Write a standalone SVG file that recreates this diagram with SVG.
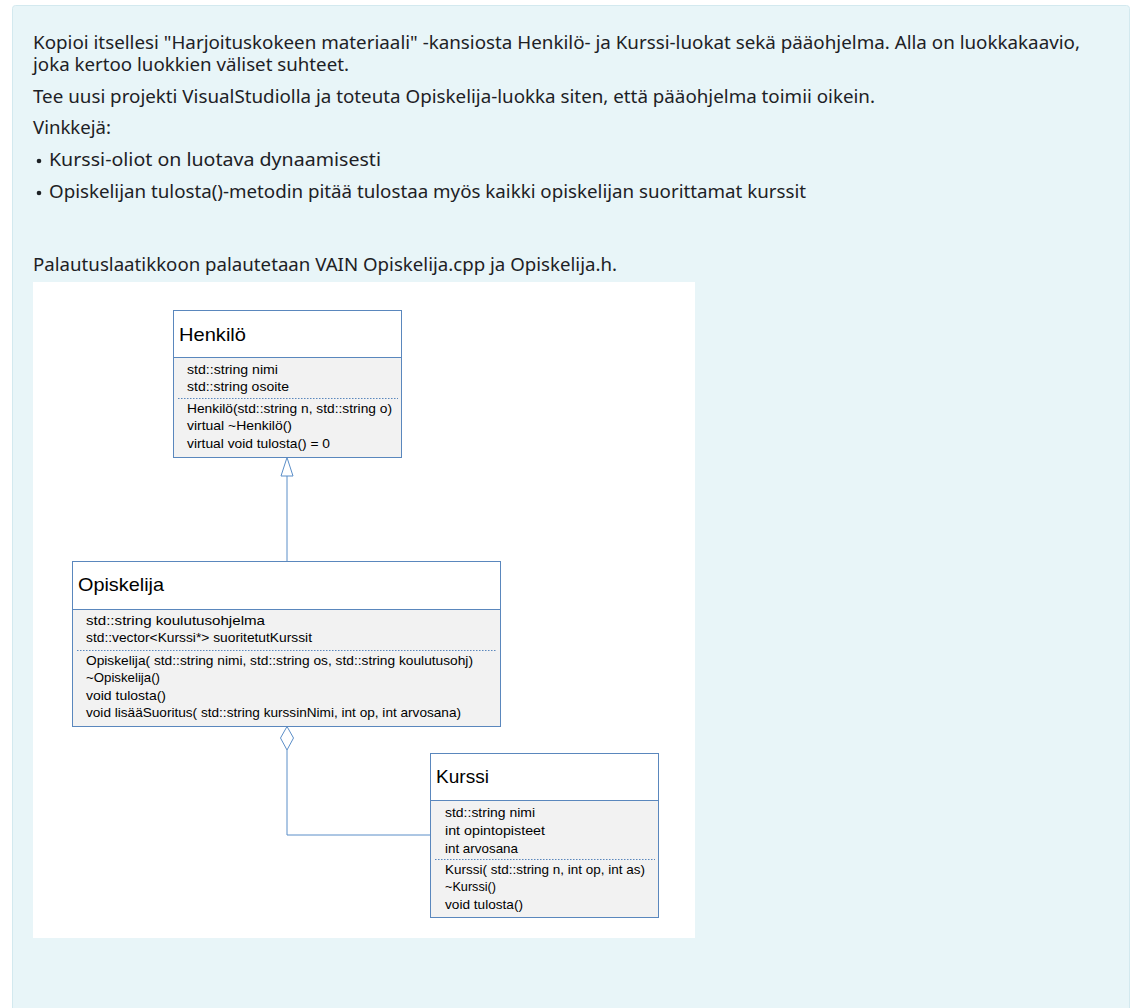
<svg xmlns="http://www.w3.org/2000/svg" width="1143" height="1008" viewBox="0 0 1143 1008">
<style>
.txt{font-family:"Noto Sans","Open Sans",sans-serif;font-size:18px;fill:#1d2125}
.ttl{font-family:"Liberation Sans",Arial,sans-serif;font-size:19px;fill:#000}
.mem{font-family:"Liberation Sans",Arial,sans-serif;font-size:13.5px;fill:#000}
.box{fill:#f2f2f2;stroke:#5a87bd;stroke-width:1}
.hdr{fill:#fff;stroke:#5a87bd;stroke-width:1}
.sep{stroke:#5a87bd;stroke-width:1;stroke-dasharray:1.5 1.5}
.con{fill:none;stroke:#5b8ec8;stroke-width:1}
</style>
<rect x="12.5" y="5.5" width="1117" height="1010" rx="3" fill="#e8f5f8" stroke="#d3e9ef"/>
<g id="instructions">
<text class="txt" x="33" y="49" textLength="1047" lengthAdjust="spacingAndGlyphs">Kopioi itsellesi "Harjoituskokeen materiaali" -kansiosta Henkilö- ja Kurssi-luokat sekä pääohjelma. Alla on luokkakaavio,</text>
<text class="txt" x="33" y="71" textLength="316" lengthAdjust="spacingAndGlyphs">joka kertoo luokkien väliset suhteet.</text>
<text class="txt" x="33" y="103" textLength="842" lengthAdjust="spacingAndGlyphs">Tee uusi projekti VisualStudiolla ja toteuta Opiskelija-luokka siten, että pääohjelma toimii oikein.</text>
<text class="txt" x="33" y="134" textLength="78" lengthAdjust="spacingAndGlyphs">Vinkkejä:</text>
<circle cx="39" cy="161" r="2.3" fill="#1d2125"/>
<text class="txt" x="49" y="166" textLength="332" lengthAdjust="spacingAndGlyphs">Kurssi-oliot on luotava dynaamisesti</text>
<circle cx="39" cy="193" r="2.3" fill="#1d2125"/>
<text class="txt" x="49" y="198" textLength="757" lengthAdjust="spacingAndGlyphs">Opiskelijan tulosta()-metodin pitää tulostaa myös kaikki opiskelijan suorittamat kurssit</text>
<text class="txt" x="33" y="271" textLength="584" lengthAdjust="spacingAndGlyphs">Palautuslaatikkoon palautetaan VAIN Opiskelija.cpp ja Opiskelija.h.</text>
</g>
<rect x="33" y="282" width="662" height="656" fill="#fff"/>
<g id="connectors">
<line class="con" x1="287" y1="561" x2="287" y2="476"/>
<polygon class="con" points="287,457.5 281,476 293,476" fill="#fff"/>
<polyline class="con" points="287,750 287,835 430,835"/>
<polygon class="con" points="287,726.5 293.5,738 287,750 280.5,738" fill="#fff"/>
</g>
<g id="henkilo">
<rect class="box" x="173.5" y="310.5" width="228" height="147"/>
<rect class="hdr" x="173.5" y="310.5" width="228" height="47"/>
<text class="ttl" x="179" y="341" textLength="67" lengthAdjust="spacingAndGlyphs">Henkilö</text>
<text class="mem" x="187" y="374" textLength="91" lengthAdjust="spacingAndGlyphs">std::string nimi</text>
<text class="mem" x="187" y="391" textLength="102" lengthAdjust="spacingAndGlyphs">std::string osoite</text>
<line class="sep" x1="178" y1="398.5" x2="398" y2="398.5"/>
<text class="mem" x="187" y="413" textLength="205" lengthAdjust="spacingAndGlyphs">Henkilö(std::string n, std::string o)</text>
<text class="mem" x="187" y="430" textLength="105" lengthAdjust="spacingAndGlyphs">virtual ~Henkilö()</text>
<text class="mem" x="187" y="448" textLength="143" lengthAdjust="spacingAndGlyphs">virtual void tulosta() = 0</text>
</g>
<g id="opiskelija">
<rect class="box" x="72.5" y="561.5" width="428" height="165"/>
<rect class="hdr" x="72.5" y="561.5" width="428" height="48"/>
<text class="ttl" x="78" y="591" textLength="86" lengthAdjust="spacingAndGlyphs">Opiskelija</text>
<text class="mem" x="86" y="625" textLength="179" lengthAdjust="spacingAndGlyphs">std::string koulutusohjelma</text>
<text class="mem" x="86" y="642" textLength="226" lengthAdjust="spacingAndGlyphs">std::vector&lt;Kurssi*&gt; suoritetutKurssit</text>
<line class="sep" x1="77" y1="650.5" x2="497" y2="650.5"/>
<text class="mem" x="86" y="665" textLength="387" lengthAdjust="spacingAndGlyphs">Opiskelija( std::string nimi, std::string os, std::string koulutusohj)</text>
<text class="mem" x="86" y="682" textLength="74" lengthAdjust="spacingAndGlyphs">~Opiskelija()</text>
<text class="mem" x="86" y="700" textLength="80" lengthAdjust="spacingAndGlyphs">void tulosta()</text>
<text class="mem" x="86" y="717" textLength="375" lengthAdjust="spacingAndGlyphs">void lisääSuoritus( std::string kurssinNimi, int op, int arvosana)</text>
</g>
<g id="kurssi">
<rect class="box" x="430.5" y="753.5" width="228" height="164"/>
<rect class="hdr" x="430.5" y="753.5" width="228" height="47"/>
<text class="ttl" x="436" y="783" textLength="53" lengthAdjust="spacingAndGlyphs">Kurssi</text>
<text class="mem" x="445" y="817" textLength="90" lengthAdjust="spacingAndGlyphs">std::string nimi</text>
<text class="mem" x="445" y="835" textLength="100" lengthAdjust="spacingAndGlyphs">int opintopisteet</text>
<text class="mem" x="445" y="853" textLength="73" lengthAdjust="spacingAndGlyphs">int arvosana</text>
<line class="sep" x1="435" y1="859.5" x2="655" y2="859.5"/>
<text class="mem" x="445" y="874" textLength="200" lengthAdjust="spacingAndGlyphs">Kurssi( std::string n, int op, int as)</text>
<text class="mem" x="445" y="891" textLength="51" lengthAdjust="spacingAndGlyphs">~Kurssi()</text>
<text class="mem" x="445" y="909" textLength="78" lengthAdjust="spacingAndGlyphs">void tulosta()</text>
</g>
</svg>
